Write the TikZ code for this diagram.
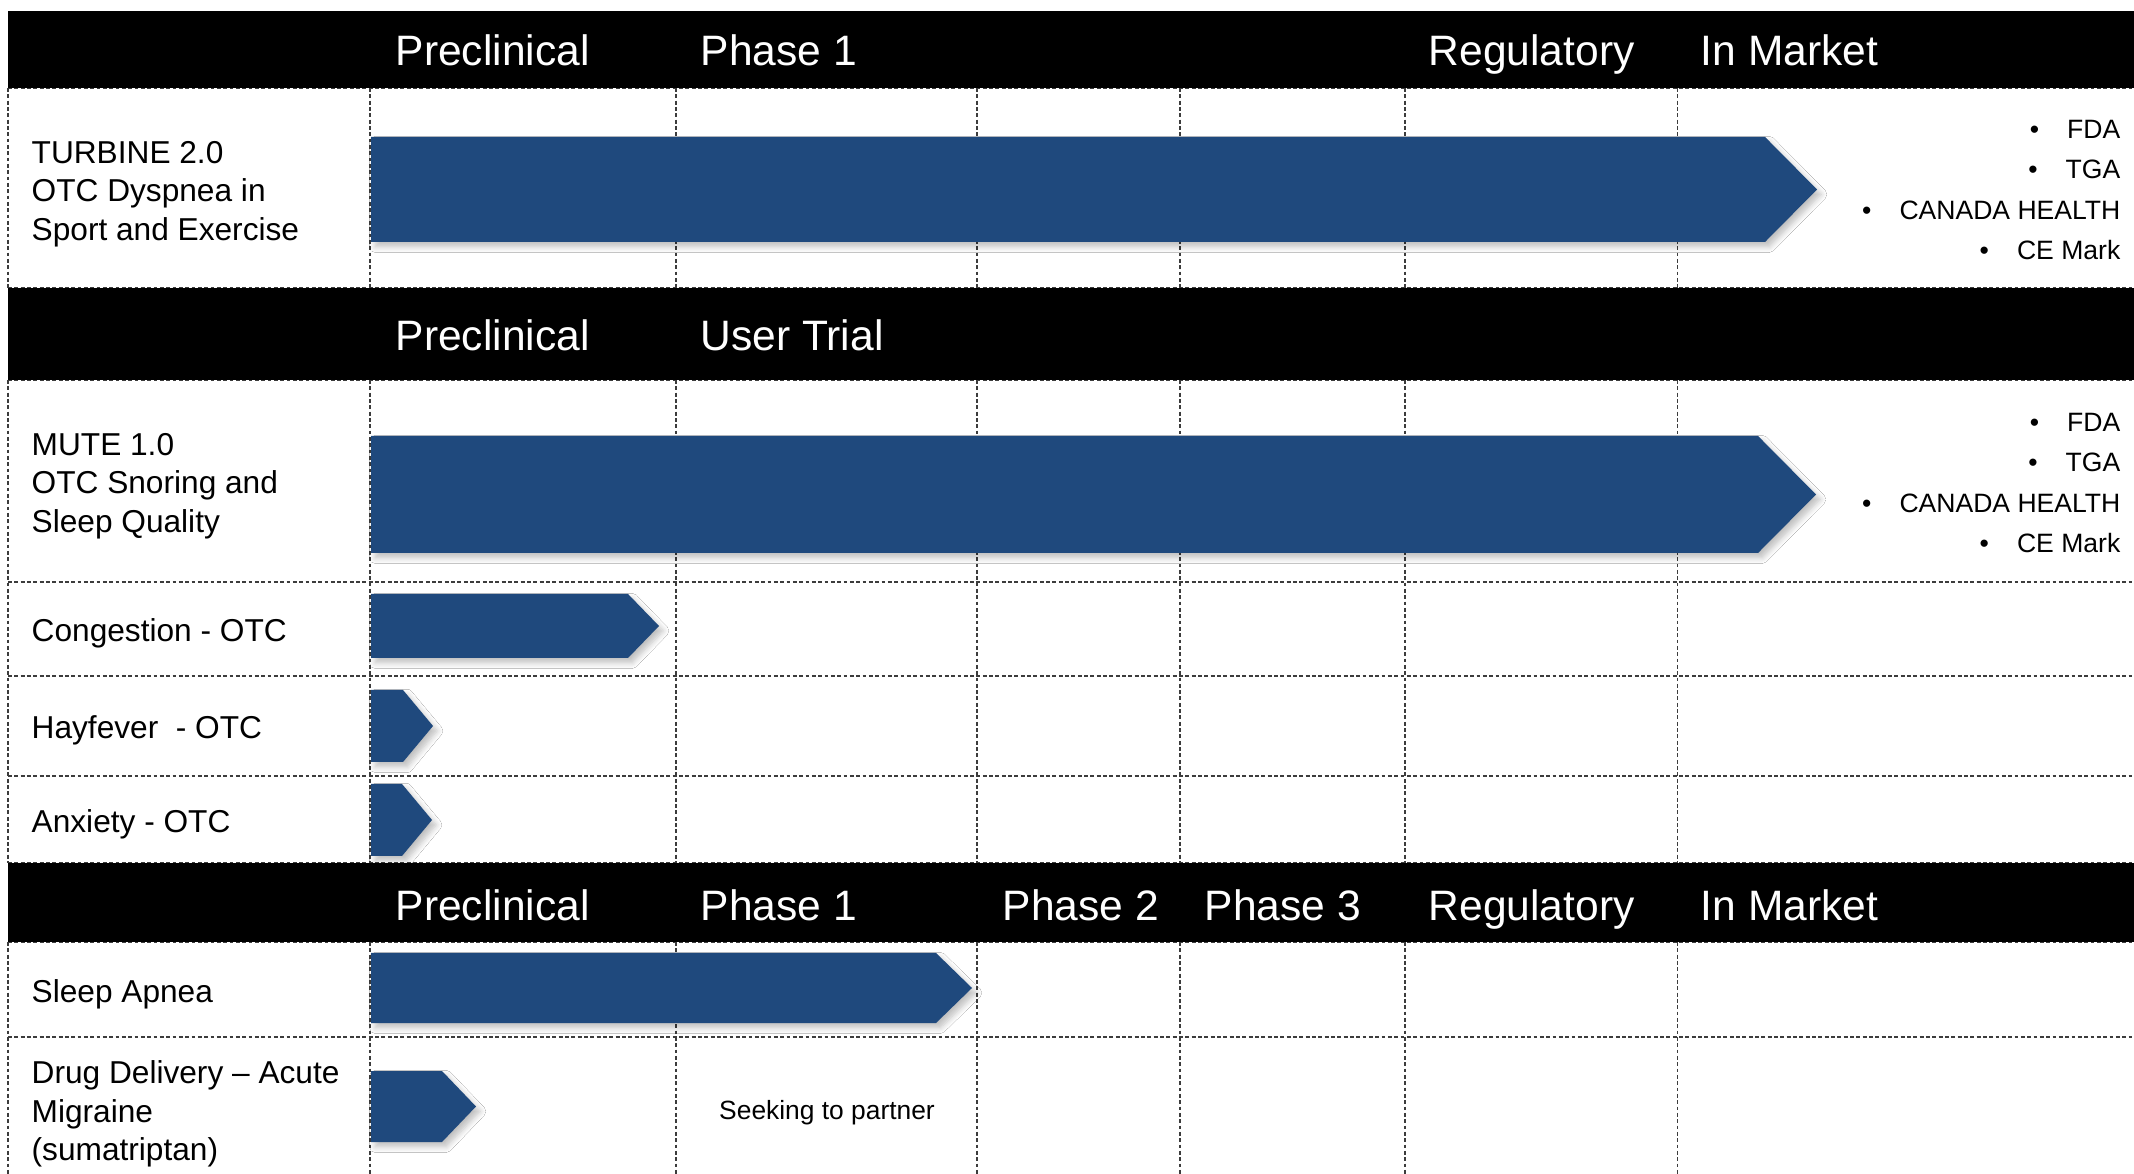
\documentclass[tikz,border=0pt]{standalone}
\usepackage{fontspec}
\setmainfont{Liberation Sans}
\usetikzlibrary{shadows.blur}
\definecolor{barblue}{RGB}{31,73,125}
\definecolor{gridgray}{RGB}{60,60,60}
\begin{document}
\begin{tikzpicture}[x=0.01cm,y=-0.01cm,
  band/.style={fill=black},
  gridline/.style={draw=gridgray,line width=0.3pt,dash pattern=on 1.1pt off 0.7pt},
  phasebar/.style={fill=barblue,blur shadow={shadow xshift=1.2pt,shadow yshift=-1.4pt,shadow blur radius=1.6pt,shadow blur steps=6,shadow opacity=25}},
  headtext/.style={text=white,inner sep=0pt,anchor=base west,font=\fontsize{12.1}{14}\selectfont},
  rowlabel/.style={inner sep=0pt,anchor=west,align=left,font=\fontsize{9}{10.95}\selectfont},
  marketlist/.style={inner sep=0pt,anchor=east,align=right,font=\fontsize{7.55}{11.4}\selectfont},
  note/.style={inner sep=0pt,font=\fontsize{7.5}{9}\selectfont}]
\useasboundingbox (0,0) rectangle (2134,1174);
\fill[white] (0,0) rectangle (2134,1174);

% row boundaries
\foreach \y in {88,288,380,582,676,776,863,942,1037}
  \draw[gridline] (8,\y) -- (2134,\y);
% column boundaries inside the three white blocks
\foreach \x in {8,370,676,977,1180,1405,1677}{
  \draw[gridline] (\x,88) -- (\x,288);
  \draw[gridline] (\x,380) -- (\x,863);
  \draw[gridline] (\x,942) -- (\x,1174);
}

% header bands
\fill[band] (8,11) rectangle (2134,88);
\fill[band] (8,288) rectangle (2134,380);
\fill[band] (8,863) rectangle (2134,942);

% progress bars: start, top, bottom, end of straight edge, tip
\newcommand\progressbar[5]{%
  \fill[phasebar] (#1,#2) -- (#4,#2) -- (#5,{(#2+#3)/2}) -- (#4,#3) -- (#1,#3) -- cycle;}
\progressbar{371}{137}{242}{1765}{1817}
\progressbar{371}{436}{553}{1758}{1816}
\progressbar{371}{594}{658}{628}{659}
\progressbar{371}{690}{762}{403}{433}
\progressbar{371}{784}{856}{402}{432}
\progressbar{371}{953}{1023}{936}{972}
\progressbar{371}{1071}{1142}{442}{476}

% stage headings
\node[headtext] (h1pre) at (395,66) {Preclinical};
\node[headtext] (h1ph1) at (700,66) {Phase 1};
\node[headtext] (h1reg) at (1428,66) {Regulatory};
\node[headtext] (h1mkt) at (1700,66) {In Market};
\node[headtext] (h2pre) at (395,351) {Preclinical};
\node[headtext] (h2usr) at (700,351) {User Trial};
\node[headtext] (h3pre) at (395,921) {Preclinical};
\node[headtext] (h3ph1) at (700,921) {Phase 1};
\node[headtext] (h3ph2) at (1002,921) {Phase 2};
\node[headtext] (h3ph3) at (1204,921) {Phase 3};
\node[headtext] (h3reg) at (1428,921) {Regulatory};
\node[headtext] (h3mkt) at (1700,921) {In Market};

% product labels
\node[rowlabel] (turbine) at (31,194) {TURBINE 2.0\\OTC Dyspnea in\\Sport and Exercise};
\node[rowlabel] (mute) at (31,486) {MUTE 1.0\\OTC Snoring and\\Sleep Quality};
\node[rowlabel] (congestion) at (31,633) {Congestion - OTC};
\node[rowlabel] (hayfever) at (31,730) {Hayfever\ \ - OTC};
\node[rowlabel] (anxiety) at (31,824) {Anxiety - OTC};
\node[rowlabel] (apnea) at (31,994) {Sleep Apnea};
\node[rowlabel] (migraine) at (31,1114) {Drug Delivery – Acute\\Migraine\\(sumatriptan)};

% market approvals
\node[marketlist] (turbinemkt) at (2121,190) {\textbullet\hspace{8pt}FDA\\\textbullet\hspace{8pt}TGA\\\textbullet\hspace{8pt}CANADA HEALTH\\\textbullet\hspace{8pt}CE Mark};
\node[marketlist] (mutemkt) at (2121,483) {\textbullet\hspace{8pt}FDA\\\textbullet\hspace{8pt}TGA\\\textbullet\hspace{8pt}CANADA HEALTH\\\textbullet\hspace{8pt}CE Mark};

\node[note] (partner) at (827,1113) {Seeking to partner};
\end{tikzpicture}
\end{document}
